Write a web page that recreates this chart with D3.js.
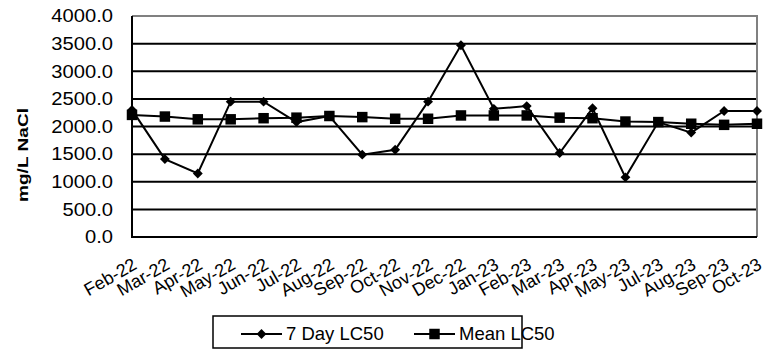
<!DOCTYPE html>
<html lang="en">
  <head>
    <meta charset="UTF-8" />
    <title>LC50</title>
    <style type="text/css">
      body { margin: 0; background: #fff; }
      text { font-family: Arial, 'Liberation Sans', sans-serif; fill: #000; }
    </style>
    <script src="https://d3js.org/d3.v7.min.js"></script>
  </head>
  <body>
    <div class="d3Chart"></div>
    <script type="text/javascript">
      var months = ['Feb-22', 'Mar-22', 'Apr-22', 'May-22', 'Jun-22', 'Jul-22', 'Aug-22', 'Sep-22', 'Oct-22', 'Nov-22',
        'Dec-22', 'Jan-23', 'Feb-23', 'Mar-23', 'Apr-23', 'May-23', 'Jul-23', 'Aug-23', 'Sep-23', 'Oct-23']
      var sevenDay = [2300, 1410, 1150, 2450, 2450, 2080, 2190, 1490, 1580, 2450,
        3470, 2320, 2370, 1520, 2330, 1080, 2080, 1890, 2280, 2280]
      var meanLC = [2210, 2180, 2130, 2130, 2150, 2160, 2190, 2170, 2140, 2140,
        2200, 2200, 2200, 2160, 2150, 2090, 2080, 2050, 2030, 2050]
      var yTicks = [0, 500, 1000, 1500, 2000, 2500, 3000, 3500, 4000]
      var seriesNames = ['7 Day LC50', 'Mean LC50']

      var width = 769
      var height = 352
      var plotL = 132, plotR = 757, plotT = 16, plotB = 237

      var svg = d3.select('.d3Chart').append('svg')
        .attr('width', width)
        .attr('height', height)

      var x = d3.scalePoint().domain(months).range([plotL, plotR])
      var y = d3.scaleLinear().domain([0, 4000]).range([plotB, plotT])

      // 网格线
      svg.append('g')
        .selectAll('line')
        .data(yTicks.filter((d) => d > 0 && d < 4000))
        .enter()
        .append('line')
        .attr('x1', plotL).attr('x2', plotR)
        .attr('y1', (d) => y(d)).attr('y2', (d) => y(d))
        .attr('stroke', '#000').attr('stroke-width', 2)

      // 绘图区边框 (上、右 灰色)
      svg.append('path')
        .attr('d', `M${plotL},${y(4000)}H${plotR}V${y(0)}`)
        .attr('fill', 'none').attr('stroke', '#808080').attr('stroke-width', 2)

      // 坐标轴线
      svg.append('path')
        .attr('d', `M${plotL},${y(4000)}V${y(0)}H${plotR}`)
        .attr('fill', 'none').attr('stroke', '#000').attr('stroke-width', 2)

      // y 刻度文字 (原图文字横向略宽)
      svg.append('g')
        .attr('transform', 'translate(113,0) scale(1.12,1)')
        .selectAll('text')
        .data(yTicks)
        .enter()
        .append('text')
        .attr('x', 0)
        .attr('y', (d) => y(d))
        .attr('dy', '0.35em')
        .attr('text-anchor', 'end')
        .style('font-size', '18px')
        .text((d) => d3.format('.1f')(d))

      // y 轴标题
      svg.append('text')
        .attr('transform', 'translate(28,155) rotate(-90)')
        .attr('text-anchor', 'middle')
        .attr('textLength', 94)
        .attr('lengthAdjust', 'spacingAndGlyphs')
        .style('font-size', '14px')
        .style('font-weight', 'bold')
        .text('mg/L NaCl')

      // x 刻度文字
      svg.append('g')
        .selectAll('text')
        .data(months)
        .enter()
        .append('text')
        .attr('transform', (d) => `translate(${x(d) + 6},268) rotate(-30)`)
        .attr('text-anchor', 'end')
        .style('font-size', '18px')
        .text((d) => d)

      var line = d3.line().x((d, i) => x(months[i])).y((d) => y(d))
      var diamond = d3.symbol().type(d3.symbolDiamond2).size(62)
      var square = d3.symbol().type(d3.symbolSquare).size(110)

      function drawSeries(values, sym) {
        var g = svg.append('g')
        g.append('path')
          .attr('d', line(values))
          .attr('fill', 'none').attr('stroke', '#000').attr('stroke-width', 2)
        g.selectAll('path.m')
          .data(values)
          .enter()
          .append('path')
          .attr('class', 'm')
          .attr('d', sym)
          .attr('transform', (d, i) => `translate(${x(months[i])},${y(d)})`)
          .attr('fill', '#000')
      }
      drawSeries(sevenDay, diamond)
      drawSeries(meanLC, square)

      // 图例
      var legend = svg.append('g')
      legend.append('rect')
        .attr('x', 213).attr('y', 316).attr('width', 309).attr('height', 32)
        .attr('fill', '#fff').attr('stroke', '#000').attr('stroke-width', 1.5)
      var items = [{ name: seriesNames[0], sym: diamond, x0: 241 }, { name: seriesNames[1], sym: square, x0: 414 }]
      items.forEach((it) => {
        legend.append('line')
          .attr('x1', it.x0).attr('x2', it.x0 + 41)
          .attr('y1', 334).attr('y2', 334)
          .attr('stroke', '#000').attr('stroke-width', 2)
        legend.append('path')
          .attr('d', it.sym)
          .attr('transform', `translate(${it.x0 + 20.5},334)`)
          .attr('fill', '#000')
        legend.append('text')
          .attr('x', it.x0 + 45)
          .attr('y', 334)
          .attr('dy', '0.35em')
          .style('font-size', '18.5px')
          .text(it.name)
      })
    </script>
  </body>
</html>
